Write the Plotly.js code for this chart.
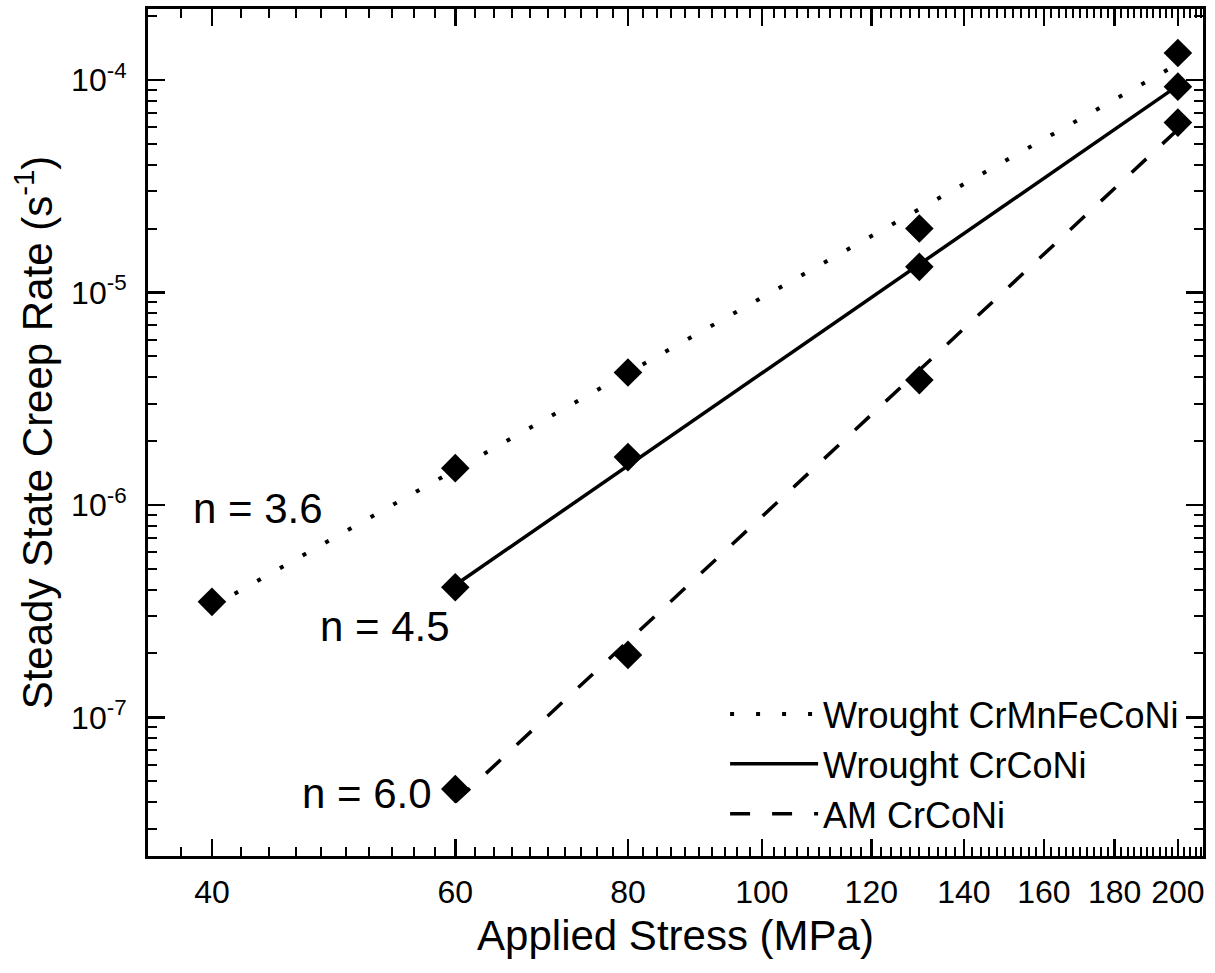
<!DOCTYPE html>
<html><head><meta charset="utf-8">
<script src="https://cdn.plot.ly/plotly-3.0.1.min.js"></script>
<style>html,body{margin:0;padding:0;background:#fff}#chart{width:1215px;height:973px}</style>
</head><body><div id="chart"></div>
<script>
// Measured creep data (applied stress in MPa, steady-state creep rate in 1/s)
const stressCrMnFeCoNi = [40, 60, 80, 130, 200];
const rateCrMnFeCoNi   = [3.5e-7, 1.49e-6, 4.2e-6, 2.0e-5, 1.34e-4];
const stressCrCoNi     = [60, 80, 130, 200];
const rateCrCoNi       = [4.1e-7, 1.68e-6, 1.32e-5, 9.3e-5];
const stressAM         = [60, 80, 130, 200];
const rateAM           = [4.6e-8, 1.97e-7, 3.87e-6, 6.3e-5];

// Power-law fit line end points
const fitStressCrMnFeCoNi = [40, 200];
const fitRateCrMnFeCoNi   = [3.33e-7, 1.19e-4];
const fitStressCrCoNi     = [60, 200];
const fitRateCrCoNi       = [4.2e-7, 9.4e-5];
const fitStressAM         = [60, 200];
const fitRateAM           = [4.0e-8, 5.85e-5];

const seriesNames    = ['Wrought CrMnFeCoNi', 'Wrought CrCoNi', 'AM CrCoNi'];
const exponentLabels = ['n = 3.6', 'n = 4.5', 'n = 6.0'];

const xTickVals = [40, 60, 80, 100, 120, 140, 160, 180, 200];
const xTickText = ['40', '60', '80', '100', '120', '140', '160', '180', '200'];
const yTickVals = [1e-7, 1e-6, 1e-5, 1e-4];
const yTickText = ['10<sup>-7</sup>', '10<sup>-6</sup>', '10<sup>-5</sup>', '10<sup>-4</sup>'];

// minor tick positions
const xMinor = [];
for (let v = 38; v <= 208; v += 2) if (xTickVals.indexOf(v) < 0) xMinor.push(v);
const yMinor = [];
for (let e = -8; e <= -4; e++) for (let d = 2; d <= 9; d++) yMinor.push(d * Math.pow(10, e));

const FONT = 'Liberation Sans, Arial, Helvetica, sans-serif';
const MS = 22;

const traces = [
  {x: fitStressCrMnFeCoNi, y: fitRateCrMnFeCoNi, name: seriesNames[0], mode: 'lines',
   line: {color: 'black', width: 4, dash: '4px,22px'}, hoverinfo: 'skip'},
  {x: fitStressCrCoNi, y: fitRateCrCoNi, name: seriesNames[1], mode: 'lines',
   line: {color: 'black', width: 3.5, dash: 'solid'}, hoverinfo: 'skip'},
  {x: fitStressAM, y: fitRateAM, name: seriesNames[2], mode: 'lines',
   line: {color: 'black', width: 3.5, dash: '20px,22px'}, hoverinfo: 'skip'},
  {x: stressCrMnFeCoNi, y: rateCrMnFeCoNi, mode: 'markers', showlegend: false,
   marker: {symbol: 'diamond', size: MS, color: 'black'}},
  {x: stressCrCoNi, y: rateCrCoNi, mode: 'markers', showlegend: false,
   marker: {symbol: 'diamond', size: MS, color: 'black'}},
  {x: stressAM, y: rateAM, mode: 'markers', showlegend: false,
   marker: {symbol: 'diamond', size: MS, color: 'black'}},
  // empty trace so the mirrored (top/right) tick axes are drawn
  {x: [null], y: [null], xaxis: 'x2', yaxis: 'y2', mode: 'markers', showlegend: false, hoverinfo: 'skip'}
];

const tickCommon = {
  ticks: 'inside', ticklen: 17, tickwidth: 2.5, tickcolor: 'black',
  showgrid: false, zeroline: false, automargin: false
};
const xRange = [1.5558, 2.3192];
const yRange = [-7.652, -3.666];
const xMinorCfg = {tickmode: 'array', tickvals: xMinor, ticks: 'inside', ticklen: 9, tickwidth: 2, tickcolor: 'black', showgrid: false};
const yMinorCfg = {tickmode: 'array', tickvals: yMinor, ticks: 'inside', ticklen: 9, tickwidth: 2, tickcolor: 'black', showgrid: false};

const layout = {
  width: 1215, height: 973,
  margin: {l: 148, r: 12, t: 9, b: 117},
  paper_bgcolor: 'white', plot_bgcolor: 'white',
  font: {family: FONT, color: 'black'},
  showlegend: true,
  xaxis: Object.assign({}, tickCommon, {
    type: 'log', range: xRange, showline: true, linewidth: 3, linecolor: 'black', mirror: true,
    tickmode: 'array', tickvals: xTickVals, ticktext: xTickText,
    tickfont: {size: 32, family: FONT}, ticklabelstandoff: 6,
    minor: xMinorCfg,
    title: {text: 'Applied Stress (MPa)', font: {size: 42, family: FONT}, standoff: 12}
  }),
  yaxis: Object.assign({}, tickCommon, {
    type: 'log', range: yRange, showline: true, linewidth: 3, linecolor: 'black', mirror: true,
    tickmode: 'array', tickvals: yTickVals, ticktext: yTickText,
    tickfont: {size: 32, family: FONT}, ticklabelstandoff: 12,
    minor: yMinorCfg,
    title: {text: 'Steady State Creep Rate (s<sup>-1</sup>)', font: {size: 42, family: FONT}, standoff: 6}
  }),
  xaxis2: Object.assign({}, tickCommon, {
    type: 'log', range: xRange, overlaying: 'x', side: 'top', anchor: 'y2', showline: false,
    tickmode: 'array', tickvals: xTickVals, showticklabels: false, minor: xMinorCfg
  }),
  yaxis2: Object.assign({}, tickCommon, {
    type: 'log', range: yRange, overlaying: 'y', side: 'right', anchor: 'x2', showline: false,
    tickmode: 'array', tickvals: yTickVals, showticklabels: false, minor: yMinorCfg
  }),
  legend: {
    x: 0.547, xanchor: 'left', y: 0.014, yanchor: 'bottom',
    bgcolor: 'rgba(0,0,0,0)', borderwidth: 0,
    font: {size: 36, family: FONT, color: 'black'},
    itemwidth: 88, tracegroupgap: 0
  },
  annotations: [
    {xref: 'paper', yref: 'paper', x: 0.1043, y: 0.4097, text: exponentLabels[0], showarrow: false,
     font: {size: 42, family: FONT}, xanchor: 'center', yanchor: 'middle'},
    {xref: 'paper', yref: 'paper', x: 0.2246, y: 0.2715, text: exponentLabels[1], showarrow: false,
     font: {size: 42, family: FONT}, xanchor: 'center', yanchor: 'middle'},
    {xref: 'paper', yref: 'paper', x: 0.2076, y: 0.0732, text: exponentLabels[2], showarrow: false,
     font: {size: 42, family: FONT}, xanchor: 'center', yanchor: 'middle'}
  ]
};

Plotly.newPlot('chart', traces, layout, {displayModeBar: false, staticPlot: true});
</script>
</body></html>
